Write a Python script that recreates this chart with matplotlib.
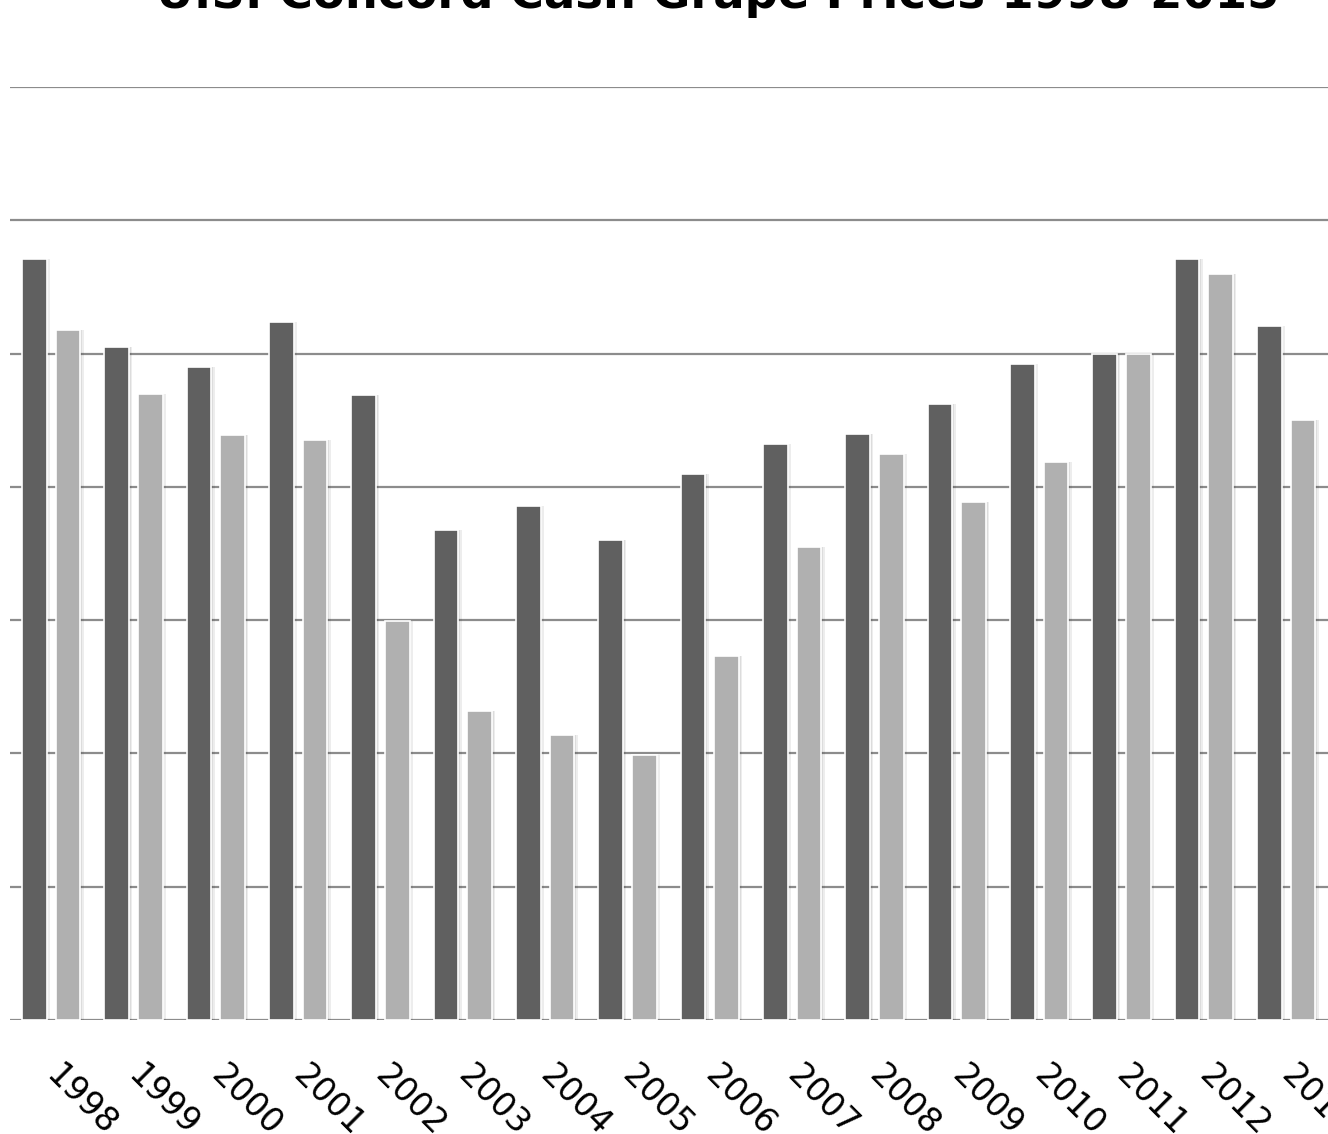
import matplotlib
matplotlib.use("Agg")
import matplotlib.pyplot as plt
import numpy as np

# ---------------------------------------------------------------------------
# Data (cash price, $/ton)
# ---------------------------------------------------------------------------
years = ["1998", "1999", "2000", "2001", "2002", "2003", "2004", "2005",
         "2006", "2007", "2008", "2009", "2010", "2011", "2012", "2013"]
price_dark = [285.5, 252.5, 245, 262, 234.5, 184, 193, 180,
              205, 216, 220, 231, 246, 250, 285.5, 260.5]
price_light = [259, 235, 219.5, 217.5, 149.5, 116, 107, 99.5,
               136.5, 177.5, 212.5, 194.5, 209.5, 250, 280, 225]
n_slots = 18          # 1998-2015, the chart is cropped on the right

DARK = "#606060"
LIGHT = "#b0b0b0"
GRID = "#8c8c8c"

W, H = 1328, 1134
fig = plt.figure(figsize=(W / 100, H / 100), dpi=100)
fig.patch.set_facecolor("white")

# axes run past the right edge of the figure, as in the cropped original
ax_left, ax_bottom, ax_top = 10, 1020, 87
slot_px = 82.33
ax = fig.add_axes([ax_left / W, (H - ax_bottom) / H,
                   n_slots * slot_px / W, (ax_bottom - ax_top) / H])

x = np.arange(len(years))
off, bw = 0.205, 0.30

# soft shadow to the right of each bar
shadow_dx = 0.04
for vals, dx in ((price_dark, -off), (price_light, off)):
    ax.bar(x + dx + shadow_dx, vals, width=bw, color="#000000", alpha=0.07,
           linewidth=0, zorder=2)
    ax.bar(x + dx + shadow_dx / 2, vals, width=bw, color="#000000", alpha=0.07,
           linewidth=0, zorder=2)

ax.bar(x - off, price_dark, width=bw, color=DARK, edgecolor="white",
       linewidth=1.2, zorder=3)
ax.bar(x + off, price_light, width=bw, color=LIGHT, edgecolor="white",
       linewidth=1.2, zorder=3)

ax.set_xlim(-0.5, n_slots - 0.5)
ax.set_ylim(0, 350)
for yv in np.arange(0, 351, 50):
    ax.axhline(yv, color=GRID, linewidth=1.6, zorder=1)

for s in ax.spines.values():
    s.set_visible(False)
ax.set_yticks([])
ax.set_xticks([])

for i, yr in enumerate(years):
    ax.annotate(yr, xy=(i, 0), xycoords="data",
                xytext=(0, -50), textcoords="offset pixels",
                rotation=-45, rotation_mode="anchor", ha="left", va="center",
                fontsize=24, color="black", annotation_clip=False)

fig.text(718 / W, 1 - 8 / H, "U.S. Concord Cash Grape Prices 1998-2015",
         ha="center", va="baseline", fontsize=33.5, fontweight="bold",
         color="black")

fig.savefig("out.png", dpi=100, facecolor=fig.get_facecolor())
